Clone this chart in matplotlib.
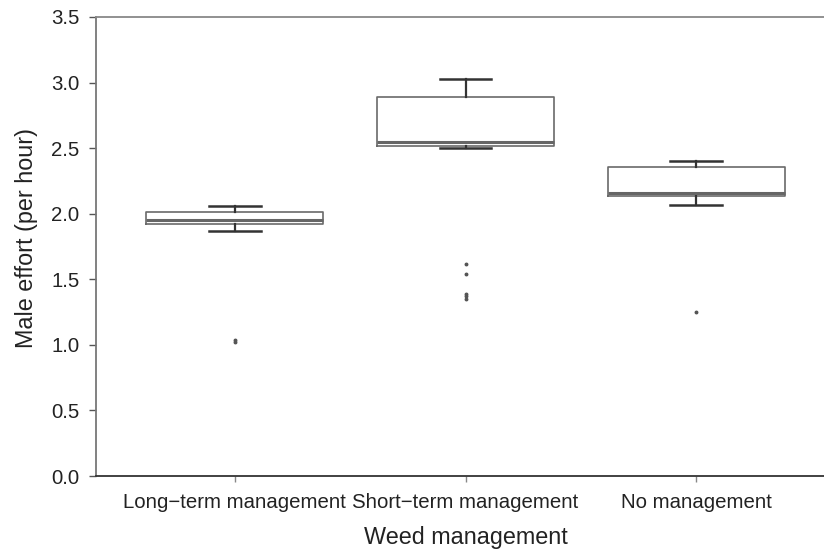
import matplotlib
matplotlib.use("Agg")
import matplotlib.pyplot as plt

plt.rcParams['font.family'] = ['Liberation Sans', 'DejaVu Sans']

categories = ["Long\u2212term management", "Short\u2212term management", "No management"]
whislo = [1.87, 2.50, 2.07]
q1 = [1.92, 2.52, 2.135]
med = [1.95, 2.55, 2.16]
q3 = [2.01, 2.89, 2.36]
whishi = [2.06, 3.03, 2.40]
fliers = [[1.025, 1.04], [1.62, 1.54, 1.39, 1.37, 1.35], [1.25]]

stats = []
for i in range(len(categories)):
    stats.append(dict(label=categories[i], whislo=whislo[i], q1=q1[i], med=med[i],
                      q3=q3[i], whishi=whishi[i], fliers=fliers[i]))

fig = plt.figure(figsize=(8.24, 5.5), dpi=100)
ax = fig.add_axes([96/824, 74/550, 739/824, 459/550])

ax.bxp(stats, positions=[1, 2, 3], widths=0.77, capwidths=0.225,
       boxprops=dict(color='#6a6a6a', linewidth=1.2),
       medianprops=dict(color='#666666', linewidth=2.2),
       whiskerprops=dict(color='#333333', linewidth=1.6),
       capprops=dict(color='#333333', linewidth=1.8),
       flierprops=dict(marker='o', markersize=1.8, markerfacecolor='#555555',
                       markeredgecolor='#555555', linestyle='none'))

ax.set_xlim(0.4, 3.6)
ax.set_ylim(0, 3.5)
ax.set_yticks([0, 0.5, 1.0, 1.5, 2.0, 2.5, 3.0, 3.5])
ax.set_yticklabels(["0.0", "0.5", "1.0", "1.5", "2.0", "2.5", "3.0", "3.5"])
ax.set_xticks([1, 2, 3])
ax.set_xticklabels(categories)

ax.spines['right'].set_visible(False)
ax.spines['top'].set_color('#888888')
ax.spines['left'].set_color('#777777')
ax.spines['bottom'].set_color('#333333')
for s in ax.spines.values():
    s.set_linewidth(1.3)

ax.tick_params(axis='y', direction='out', length=5, width=1, color='#555555',
               labelsize=14.7, labelcolor='#222222', pad=7)
ax.tick_params(axis='x', direction='out', length=4, width=1, color='#888888',
               labelsize=14.7, labelcolor='#222222', pad=8)

ax.set_xlabel("Weed management", fontsize=16.8, color='#222222', labelpad=10)
ax.set_ylabel("Male effort (per hour)", fontsize=16.8, color='#222222')
ax.yaxis.set_label_coords(-0.078, 0.518)

fig.savefig("out.png", dpi=100)
